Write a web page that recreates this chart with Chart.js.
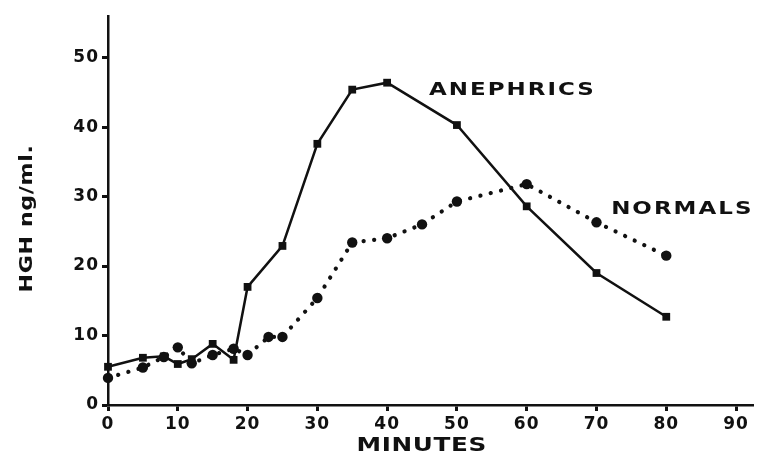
<!DOCTYPE html>
<html>
<head>
<meta charset="utf-8">
<script src="https://cdn.jsdelivr.net/npm/chart.js@4.4.1/dist/chart.umd.min.js"></script>
<style>
  html, body { margin: 0; padding: 0; background: #fff; }
  canvas { display: block; }
</style>
</head>
<body>
<canvas id="hghChart" width="759" height="455"></canvas>
<script>
const ctx_hgh = document.querySelector('#hghChart').getContext('2d');

// minutes after stimulus
const anephricMinutes = [0, 5, 8, 10, 12, 15, 18, 20, 25, 30, 35, 40, 50, 60, 70, 80];
const anephricHGH = [5.5, 6.8, 7.0, 5.9, 6.6, 8.8, 6.5, 17.0, 22.9, 37.6, 45.4, 46.4, 40.3, 28.6, 19.0, 12.7];

const normalMinutes = [0, 5, 8, 10, 12, 15, 18, 20, 23, 25, 30, 35, 40, 45, 50, 60, 70, 80];
const normalHGH = [3.9, 5.4, 6.9, 8.3, 6.0, 7.2, 8.1, 7.2, 9.8, 9.8, 15.4, 23.4, 24.0, 26.0, 29.3, 31.8, 26.3, 21.5];

const seriesNames = ['ANEPHRICS', 'NORMALS'];
const xTitle = 'MINUTES';
const yTitle = 'HGH ng/ml.';

const ink = '#111';
const fontFamily = '"DejaVu Sans", "Liberation Sans", sans-serif';

function toPoints(xs, ys) {
    return xs.map((x, i) => ({x: x, y: ys[i]}));
}

// extended-looking text: stretch horizontally around the anchor
function wideText(ctx, text, x, y, stretch, align) {
    ctx.save();
    ctx.translate(x, y);
    ctx.scale(stretch, 1);
    ctx.textAlign = align;
    ctx.fillText(text, 0, 0);
    ctx.restore();
}

// titles + series names
const textLabels = {
    id: 'textLabels',
    beforeDraw(chart) {
        chart.ctx.letterSpacing = '1px';
    },
    afterDraw(chart) {
        const {ctx, chartArea, scales} = chart;
        const x = scales.x, y = scales.y;
        ctx.save();
        ctx.fillStyle = ink;
        ctx.textBaseline = 'middle';

        ctx.font = 'bold 17px ' + fontFamily;
        ctx.letterSpacing = '1.5px';
        wideText(ctx, seriesNames[0], x.getPixelForValue(46), y.getPixelForValue(45.2), 1.35, 'left');
        wideText(ctx, seriesNames[1], x.getPixelForValue(72.1), y.getPixelForValue(28.1), 1.35, 'left');

        ctx.font = 'bold 19px ' + fontFamily;
        ctx.letterSpacing = '0.5px';
        wideText(ctx, xTitle, (chartArea.left + chartArea.right) / 2 - 9, chartArea.bottom + 41, 1.3, 'center');

        ctx.font = 'bold 17px ' + fontFamily;
        ctx.letterSpacing = '0.5px';
        ctx.translate(28, (chartArea.top + chartArea.bottom) / 2 + 8);
        ctx.rotate(-Math.PI / 2);
        wideText(ctx, yTitle, 0, 0, 1.3, 'center');
        ctx.restore();
    }
};

const data_hgh = {
    datasets: [
        {
            label: seriesNames[0],
            data: toPoints(anephricMinutes, anephricHGH),
            borderColor: ink,
            backgroundColor: ink,
            borderWidth: 2.5,
            pointStyle: 'rect',
            pointRadius: 5.5,
            pointBorderWidth: 0,
            tension: 0,
            clip: false,
        },
        {
            label: seriesNames[1],
            data: toPoints(normalMinutes, normalHGH),
            borderColor: ink,
            backgroundColor: ink,
            borderWidth: 4.2,
            borderDash: [0.1, 10.5],
            borderCapStyle: 'round',
            pointStyle: 'circle',
            pointRadius: 5.2,
            pointBorderWidth: 0,
            tension: 0,
            clip: false,
        },
    ],
};

const config_hgh = {
    type: 'line',
    data: data_hgh,
    plugins: [textLabels],
    options: {
        responsive: false,
        animation: false,
        layout: {
            padding: {top: 16, right: 3, left: 0, bottom: 0}
        },
        plugins: {
            legend: {display: false},
            tooltip: {enabled: false},
        },
        scales: {
            x: {
                type: 'linear',
                min: 0,
                max: 92.5,
                afterFit: (scale) => { scale.height = 50; },
                border: {display: true, color: ink, width: 2.5},
                grid: {drawOnChartArea: false, tickLength: 6, tickWidth: 3, tickColor: ink},
                ticks: {
                    stepSize: 10,
                    includeBounds: false,
                    padding: 3,
                    color: ink,
                    font: {family: fontFamily, size: 17, weight: 'bold'},
                },
            },
            y: {
                min: 0,
                max: 56,
                afterFit: (scale) => { scale.width = 108; },
                border: {display: true, color: ink, width: 2.5},
                grid: {drawOnChartArea: false, tickLength: 6, tickWidth: 3, tickColor: ink},
                ticks: {
                    stepSize: 10,
                    includeBounds: false,
                    padding: 3,
                    color: ink,
                    font: {family: fontFamily, size: 17, weight: 'bold'},
                },
            },
        },
    },
};

new Chart(ctx_hgh, config_hgh);
</script>
</body>
</html>
